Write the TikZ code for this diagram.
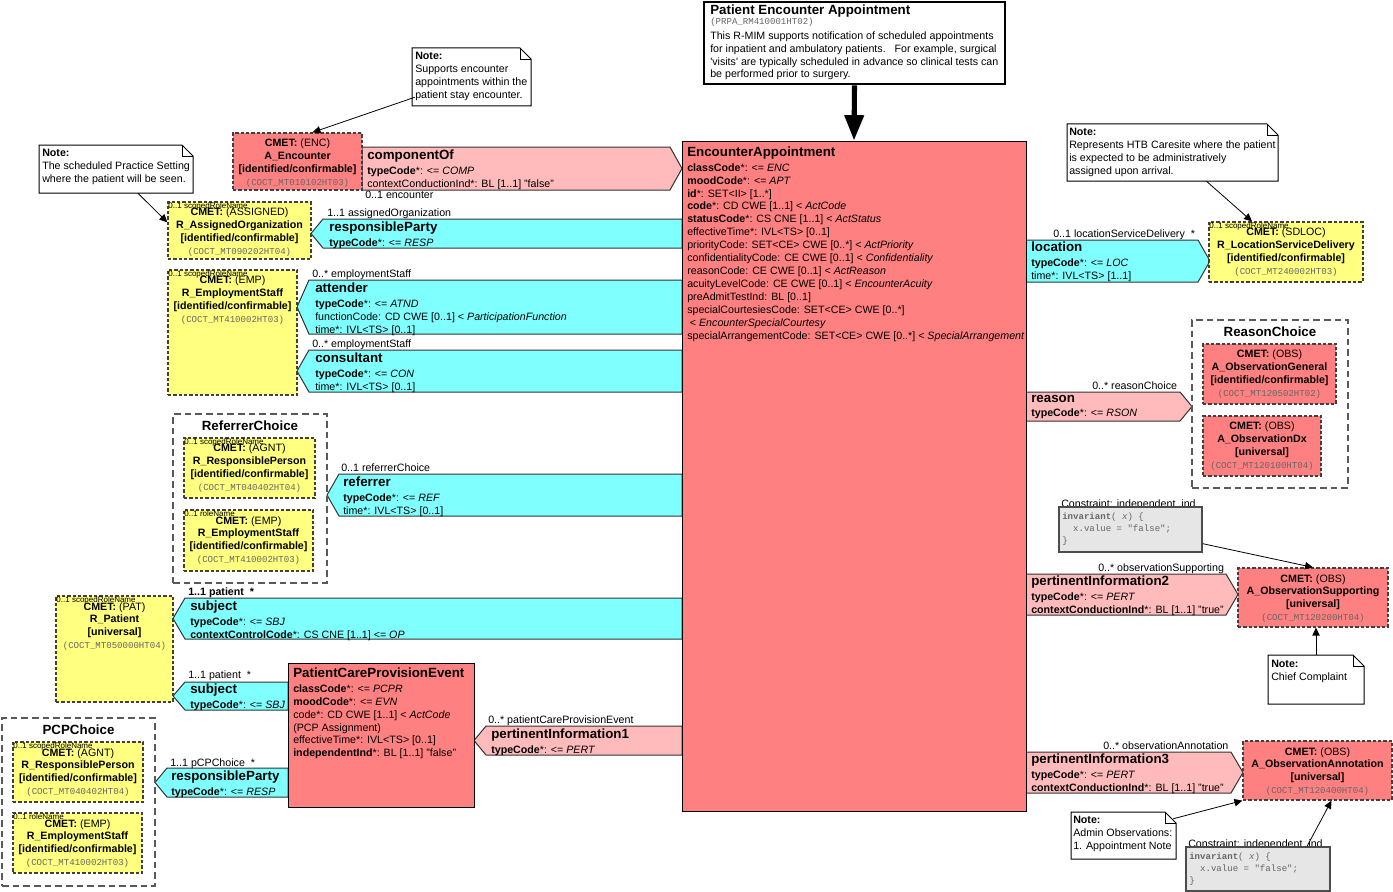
\documentclass[tikz,border=0pt]{standalone}
\usepackage{fontspec}
\setmainfont{Liberation Sans}
\setmonofont{Liberation Mono}
\usetikzlibrary{arrows.meta}
\usetikzlibrary{fit,calc}

\definecolor{clsred}{HTML}{FF8080}
\definecolor{actpink}{HTML}{FFBBBB}
\definecolor{partcyan}{HTML}{80FFFF}
\definecolor{roleyel}{HTML}{FFFF80}
\definecolor{congray}{HTML}{E6E6E6}

\newcommand{\rmimattr}{\fontsize{8}{9.7}\selectfont}
\newcommand{\rmimhead}{\fontsize{10}{9.7}\selectfont\bfseries}
\newcommand{\rmimid}{\fontsize{6.8}{9.7}\selectfont\ttfamily\color{black!60}}
\newcommand{\rmimrole}{\fontsize{6}{7}\selectfont}
\newcommand{\rmimcode}{\fontsize{6.8}{9}\selectfont\ttfamily\color{black!60}}
\newcommand{\rmimidc}{[identified/confirmable]}
\newcommand{\rmimuni}{[universal]}

\begin{document}
\begin{tikzpicture}
[x=0.75pt,y=-0.75pt,
  clsDecorate/.style={draw=black,line width=0.75pt,fill=clsred,inner sep=0pt},
  cmetDecorate/.style={draw=black!75,line width=0.9pt,dash pattern=on 2.5pt off 1.5pt,fill=#1,inner sep=0pt},
  choiceDecorate/.style={draw=black!65,line width=1pt,dash pattern=on 5pt off 3pt,inner sep=0pt},
  assocDecorate/.style={draw=black!80,line width=0.75pt},
  noteDecorate/.style={draw=black,line width=0.75pt,fill=white},
  conDecorate/.style={draw=black!70,line width=1pt,fill=congray,inner sep=0pt},
  txt/.style={anchor=north west,inner sep=0pt,align=left,font=\rmimattr},
  ctxt/.style={anchor=north,inner sep=0pt,align=center,font=\rmimattr},
  cardlabel/.style={anchor=base west,inner sep=0pt,font=\rmimattr},
  rolelabel/.style={anchor=north west,inner sep=0.6pt,font=\rmimrole},
  noteArrow/.style={-{Triangle[length=6pt,width=5.5pt]},line width=0.6pt}]
\useasboundingbox (0,0) rectangle (1393,892);

%% associations pointing left
\foreach \xa/\ya/\xb/\yb/\fc in {
  311/219/682/248/partcyan, 297/280/682/334/partcyan,
  297/350/682/392/partcyan, 327/474/682/516/partcyan,
  173/598/682/639/partcyan, 173/682/288/710/partcyan,
  155/768/288/797/partcyan, 474/726/682/755/actpink}
{
  \draw[assocDecorate,fill=\fc] (\xa,{(\ya+\yb)/2}) -- ({\xa+12},\ya) -- (\xb,\ya)
    -- (\xb,\yb) -- ({\xa+12},\yb) -- cycle;
}
%% associations pointing right
\foreach \xa/\ya/\xb/\yb/\fc in {
  362/147/682/190/actpink, 1026/240/1210/282/partcyan,
  1026/392/1192/421/actpink, 1026/574/1238/615/actpink,
  1026/752/1243/793/actpink}
{
  \draw[assocDecorate,fill=\fc] (\xa,\ya) -- ({\xb-12},\ya) -- (\xb,{(\ya+\yb)/2})
    -- ({\xb-12},\yb) -- (\xa,\yb) -- cycle;
}

%% classes
\node[clsDecorate,fit={(682,141) (1026,811)}] (encAppt) {};
\node[clsDecorate,fit={(288,663) (474,807)}] (pcpEvent) {};

%% choice boxes
\foreach \nm/\xa/\ya/\xb/\yb/\ttl in {
  refChoice/173/414/327/583/ReferrerChoice,
  pcpChoice/2/718/155/886/PCPChoice,
  rsnChoice/1192/320/1348/488/ReasonChoice}
{
  \node[choiceDecorate,fit={(\xa,\ya) (\xb,\yb)}] (\nm) {};
  \node[ctxt,font=\rmimhead] (\nm-title) at ({(\xa+\xb)/2},{\ya+7}) {\ttl};
}

%% CMET boxes
\foreach \nm/\xa/\ya/\xb/\yb/\fc/\ccode/\ccls/\cmode/\cid in {
  encA/233/133/362/190/clsred/ENC/A\_Encounter/\rmimidc/COCT\_MT010102HT03,
  asgOrg/168/202/311/259/roleyel/ASSIGNED/R\_AssignedOrganization/\rmimidc/COCT\_MT090202HT04,
  empA/168/270/297/395/roleyel/EMP/R\_EmploymentStaff/\rmimidc/COCT\_MT410002HT03,
  refRP/184/438/315/498/roleyel/AGNT/R\_ResponsiblePerson/\rmimidc/COCT\_MT040402HT04,
  refEmp/184/510/313/571/roleyel/EMP/R\_EmploymentStaff/\rmimidc/COCT\_MT410002HT03,
  patR/56/596/173/702/roleyel/PAT/R\_Patient/\rmimuni/COCT\_MT050000HT04,
  pcpRP/13/742/143/802/roleyel/AGNT/R\_ResponsiblePerson/\rmimidc/COCT\_MT040402HT04,
  pcpEmp/13/813/142/873/roleyel/EMP/R\_EmploymentStaff/\rmimidc/COCT\_MT410002HT03,
  locSD/1209/222/1363/282/roleyel/SDLOC/R\_LocationServiceDelivery/\rmimidc/COCT\_MT240002HT03,
  obsGen/1203/344/1336/404/clsred/OBS/A\_ObservationGeneral/\rmimidc/COCT\_MT120502HT02,
  obsDx/1203/416/1321/476/clsred/OBS/A\_ObservationDx/\rmimuni/COCT\_MT120100HT04,
  obsSup/1238/568/1388/627/clsred/OBS/A\_ObservationSupporting/\rmimuni/COCT\_MT120200HT04,
  obsAnn/1243/741/1392/800/clsred/OBS/A\_ObservationAnnotation/\rmimuni/COCT\_MT120400HT04}
{
  \node[cmetDecorate=\fc,fit={(\xa,\ya) (\xb,\yb)}] (\nm) {};
  \node[ctxt] (\nm-text) at ({(\xa+\xb)/2},{\ya+6})
    {\textbf{CMET:} (\ccode)\\\textbf{\ccls}\\\textbf{\cmode}\\{\rmimid(\cid)}};
}
\foreach \nm/\rl in {asgOrg/scopedRoleName, empA/scopedRoleName,
  refRP/scopedRoleName, refEmp/roleName, patR/scopedRoleName,
  pcpRP/scopedRoleName, pcpEmp/roleName, locSD/scopedRoleName}
{
  \node[rolelabel] (\nm-role) at (\nm.north west) {0..1 \rl};
}

%% notes
\foreach \nm/\xa/\ya/\xb/\yb in {
  noteEnc/412/48/531/106, notePS/39/145/193/193, noteLoc/1067/124/1278/181,
  noteCC/1268/655/1364/704, noteAdm/1071/812/1176/859}
{
  \draw[noteDecorate] (\xa,\ya) -- ({\xb-11},\ya) -- (\xb,{\ya+11}) -- (\xb,\yb)
    -- (\xa,\yb) -- cycle;
  \draw[line width=0.6pt] ({\xb-11},\ya) -- ({\xb-11},{\ya+11}) -- (\xb,{\ya+11});
  \node[fit={(\xa,\ya) (\xb,\yb)},inner sep=0pt] (\nm) {};
}
\node[txt] (noteEnc-text) at (415,52)
  {\textbf{Note:}\\Supports encounter\\appointments within the\\patient stay encounter.};
\node[txt] (notePS-text) at (42,149)
  {\textbf{Note:}\\The scheduled Practice Setting\\where the patient will be seen.};
\node[txt] (noteLoc-text) at (1069,128)
  {\textbf{Note:}\\Represents HTB Caresite where the patient\\is expected to be administratively\\assigned upon arrival.};
\node[txt] (noteCC-text) at (1271,660) {\textbf{Note:}\\Chief Complaint};
\node[txt] (noteAdm-text) at (1073,816)
  {\textbf{Note:}\\Admin Observations:\\1. Appointment Note};

%% constraints
\foreach \nm/\xa/\ya/\xb/\yb in {con1/1059/507/1202/552, con2/1186/847/1330/891}
{
  \node[anchor=south west,inner sep=0pt,font=\rmimattr] (\nm-label) at ({\xa+2},{\ya+3})
    {Constraint: independent\_ind};
  \node[conDecorate,fit={(\xa,\ya) (\xb,\yb)}] (\nm) {};
  \node[anchor=north west,inner sep=0pt,align=left,font=\rmimcode] (\nm-text) at ({\xa+3},{\ya+6})
    {\textbf{invariant}( \textit{x}) \{\\\hspace*{1.2em}x.value = "false";\\\}};
}

%% title
\node[fit={(704,2) (1005,84)},draw,line width=2.2pt,fill=white,inner sep=0pt] (title) {};
\node[txt] (title-text) at (710,5)
  {{\rmimhead Patient Encounter Appointment}\\[-2.7pt]
   {\rmimid(PRPA\_RM410001HT02)}\\[1.5pt]
   This R-MIM supports notification of scheduled appointments\\
   for inpatient and ambulatory patients.\ \ \ For example, surgical\\
   \textquotesingle visits\textquotesingle{} are typically scheduled in advance so clinical tests can\\
   be performed prior to surgery.};
\draw[line width=3.8pt,-{Triangle[length=19pt,width=14pt]}] (title.south) -- (encAppt.north);

%% class texts
\node[txt] (encAppt-text) at (687,147)
  {{\rmimhead EncounterAppointment}\\[1pt]
   \textbf{classCode}*: <= \textit{ENC}\\
   \textbf{moodCode}*: <= \textit{APT}\\
   \textbf{id}*: SET<II> [1..*]\\
   \textbf{code}*: CD CWE [1..1] < \textit{ActCode}\\
   \textbf{statusCode}*: CS CNE [1..1] < \textit{ActStatus}\\
   effectiveTime*: IVL<TS> [0..1]\\
   priorityCode: SET<CE> CWE [0..*] < \textit{ActPriority}\\
   confidentialityCode: CE CWE [0..1] < \textit{Confidentiality}\\
   reasonCode: CE CWE [0..1] < \textit{ActReason}\\
   acuityLevelCode: CE CWE [0..1] < \textit{EncounterAcuity}\\
   preAdmitTestInd: BL [0..1]\\
   specialCourtesiesCode: SET<CE> CWE [0..*]\\
   \hspace*{2pt}< \textit{EncounterSpecialCourtesy}\\
   specialArrangementCode: SET<CE> CWE [0..*] < \textit{SpecialArrangement}};
\node[txt] (pcpEvent-text) at (293,668)
  {{\rmimhead PatientCareProvisionEvent}\\[1pt]
   \textbf{classCode}*: <= \textit{PCPR}\\
   \textbf{moodCode}*: <= \textit{EVN}\\
   code*: CD CWE [1..1] < \textit{ActCode}\\
   (PCP Assignment)\\
   effectiveTime*: IVL<TS> [0..1]\\
   \textbf{independentInd}*: BL [1..1] "false"};

%% association texts
\node[txt] (componentOf) at (367,150)
  {{\rmimhead componentOf}\\[1pt]\textbf{typeCode}*: <= \textit{COMP}\\contextConductionInd*: BL [1..1] "false"};
\node[txt] (respParty) at (329,222)
  {{\rmimhead responsibleParty}\\[1pt]\textbf{typeCode}*: <= \textit{RESP}};
\node[txt] (attender) at (315,283)
  {{\rmimhead attender}\\[1pt]\textbf{typeCode}*: <= \textit{ATND}\\functionCode: CD CWE [0..1] < \textit{ParticipationFunction}\\time*: IVL<TS> [0..1]};
\node[txt] (consultant) at (315,353)
  {{\rmimhead consultant}\\[1pt]\textbf{typeCode}*: <= \textit{CON}\\time*: IVL<TS> [0..1]};
\node[txt] (referrer) at (343,477)
  {{\rmimhead referrer}\\[1pt]\textbf{typeCode}*: <= \textit{REF}\\time*: IVL<TS> [0..1]};
\node[txt] (subject) at (190,601)
  {{\rmimhead subject}\\[1pt]\textbf{typeCode}*: <= \textit{SBJ}\\\textbf{contextControlCode}*: CS CNE [1..1] <= \textit{OP}};
\node[txt] (subjectPcp) at (190,684)
  {{\rmimhead subject}\\[1pt]\textbf{typeCode}*: <= \textit{SBJ}};
\node[txt] (respPartyPcp) at (171,771)
  {{\rmimhead responsibleParty}\\[1pt]\textbf{typeCode}*: <= \textit{RESP}};
\node[txt] (pertInfo1) at (491,729)
  {{\rmimhead pertinentInformation1}\\[1pt]\textbf{typeCode}*: <= \textit{PERT}};
\node[txt] (location) at (1031,242)
  {{\rmimhead location}\\[1pt]\textbf{typeCode}*: <= \textit{LOC}\\time*: IVL<TS> [1..1]};
\node[txt] (reason) at (1031,395)
  {{\rmimhead reason}\\[1pt]\textbf{typeCode}*: <= \textit{RSON}};
\node[txt] (pertInfo2) at (1031,576)
  {{\rmimhead pertinentInformation2}\\[1pt]\textbf{typeCode}*: <= \textit{PERT}\\\textbf{contextConductionInd}*: BL [1..1] "true"};
\node[txt] (pertInfo3) at (1031,754)
  {{\rmimhead pertinentInformation3}\\[1pt]\textbf{typeCode}*: <= \textit{PERT}\\\textbf{contextConductionInd}*: BL [1..1] "true"};

%% cardinalities
\foreach \x/\y/\lbl [count=\i] in {
  365/198/0..1 encounter, 327/216/1..1 assignedOrganization,
  312/277/0..* employmentStaff, 312/347/0..* employmentStaff,
  341/471/0..1 referrerChoice, 188/595/\textbf{1..1 patient\ \ *},
  188/678/1..1 patient\ \ *, 170/766/1..1 pCPChoice\ \ *,
  488/723/0..* patientCareProvisionEvent, 1053/237/0..1 locationServiceDelivery\ \ *,
  1092/389/0..* reasonChoice, 1098/571/0..* observationSupporting,
  1103/749/0..* observationAnnotation}
{
  \node[cardlabel] (card\i) at (\x,\y) {\lbl};
}

%% note arrows
\draw[noteArrow] ($(noteEnc.south west)+(3,-9)$) -- ($(encA.north)+(15,0)$);
\draw[noteArrow] ($(notePS.south)+(22,0)$) -- ($(asgOrg.north west)+(0,21)$);
\draw[noteArrow] ($(noteLoc.south)+(34,0)$) -- ($(locSD.north)+(-34,0)$);
\draw[noteArrow] ($(con1.south east)+(0,-9)$) -- (obsSup.north);
\draw[noteArrow] (noteCC.north) -- (noteCC.north |- obsSup.south);
\draw[noteArrow] ($(noteAdm.north east)+(-3,7)$) -- (obsAnn.south west);
\draw[noteArrow] ($(con2.north)+(49,0)$) -- ($(obsAnn.south)+(14,0)$);
\end{tikzpicture}
\end{document}
